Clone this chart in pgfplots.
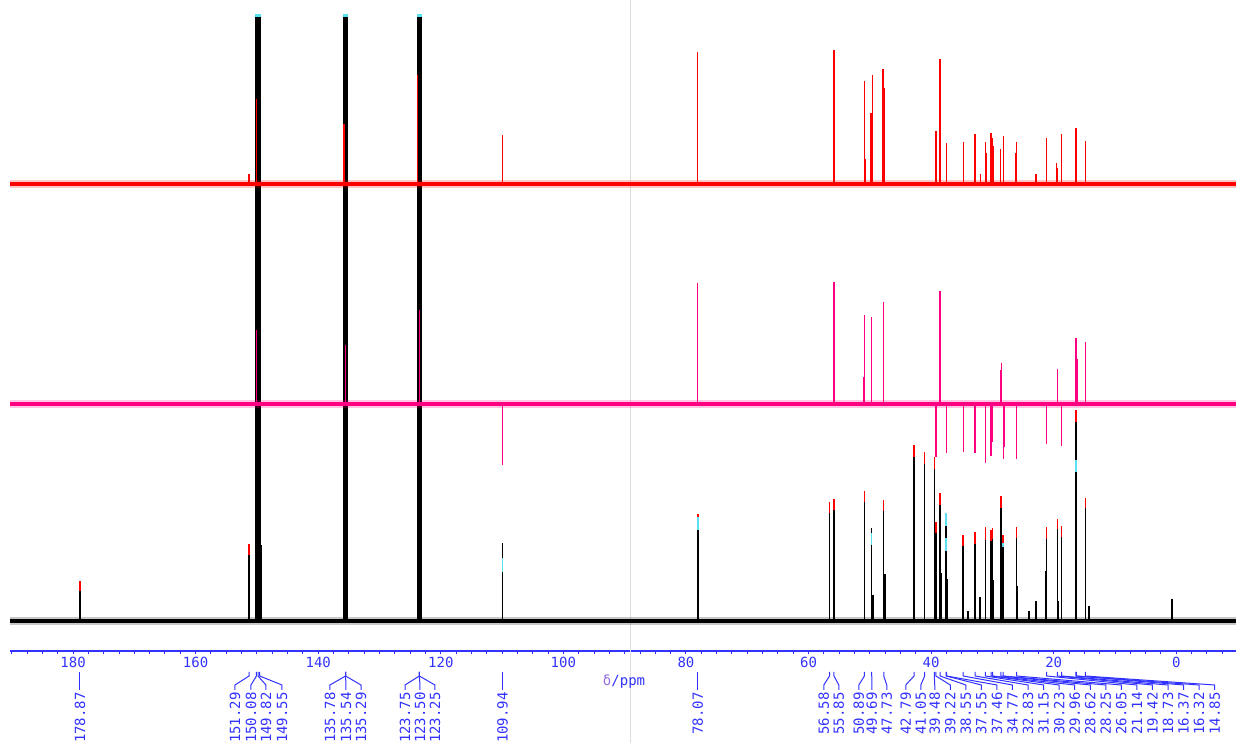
\documentclass[border=0pt]{standalone}
\usepackage{fontspec}
\usepackage{pgfplots}
\pgfplotsset{compat=1.18}
\newfontfamily\monof{DejaVu Sans Mono}
\definecolor{axblue}{RGB}{50,50,255}
\definecolor{nmrpink}{RGB}{255,0,128}
\definecolor{nmrcyan}{RGB}{90,225,240}
\definecolor{dpurple}{RGB}{150,110,230}
\definecolor{vgray}{RGB}{222,222,222}
\pgfplotsset{
  nmrbase/.style={scale only axis, width=613pt, height=325.5pt, x dir=reverse,
    xmin=-9.74, xmax=190.29, clip=false},
}
\tikzset{
  lab/.style={rotate=90, anchor=east, inner sep=0pt, text=axblue,
    font=\fontsize{7}{8}\selectfont\monof},
}
\begin{document}
\begin{tikzpicture}
% ---------------- black (13C) spectrum + axis ----------------
\begin{axis}[nmrbase, ymin=-30, ymax=621,
  axis x line*=bottom, axis y line=none,
  x axis line style={axblue, line width=0.8pt, -},
  xtick={0,20,...,180}, minor xtick={-7.5,-5,...,190},
  tick align=outside, major tick length=1.6pt, minor tick length=1.6pt,
  every tick/.style={axblue, line width=0.5pt},
  /pgf/number format/assume math mode=true,
  xticklabel style={font=\fontsize{7}{8}\selectfont\monof, text=axblue, inner sep=0pt, yshift=-1.2pt},
]
\coordinate (SW) at (rel axis cs:0,0);
\coordinate (NE) at (rel axis cs:1,1);
% cursor line
\addplot[vgray, line width=0.6pt] coordinates {(89.1,-122) (89.1,621)};
% noise baseline
\addplot[black, line width=4pt, opacity=0.22] coordinates {(190.29,0) (-9.74,0)};
\addplot[black, line width=2.3pt] coordinates {(190.29,0) (-9.74,0)};
% L1 red tips (full height)
\addplot[ycomb, red, line width=0.7pt] coordinates {
 (178.87,40) (151.29,77) (78.07,107) (56.58,119) (55.85,122) (50.89,130)
 (47.73,121) (42.79,176) (41.05,169) (39.48,164) (39.22,99) (38.55,128)
 (34.77,86) (32.83,89) (31.15,94) (30.23,91) (29.96,93) (28.62,125)
 (28.25,86) (26.05,94) (21.14,94) (19.42,102) (18.73,95) (16.37,211) (14.85,123)};
% L2 cyan tips
\addplot[ycomb, nmrcyan, line width=1.1pt] coordinates {
 (150.08,607) (149.82,607) (149.55,607) (135.78,607) (135.54,607) (135.29,607)
 (123.75,607) (123.50,607) (123.25,607)};
\addplot[ycomb, nmrcyan, line width=0.7pt] coordinates {(37.55,108)};
% L3 black bodies
\addplot[ycomb, black, line width=1.1pt] coordinates {
 (150.08,604) (149.82,604) (149.55,604) (135.78,604) (135.54,604) (135.29,604)
 (123.75,604) (123.50,604) (123.25,604)};
\addplot[ycomb, black, line width=2pt] coordinates {
 (149.45,76) (135.45,20) (123.35,26)};
\addplot[ycomb, black, line width=0.7pt] coordinates {
 (178.87,30) (151.29,66) (109.94,78) (78.07,104) (56.58,108) (55.85,111)
 (50.89,119) (49.69,93) (47.73,110) (42.79,164) (41.05,157) (39.48,152)
 (39.22,88) (38.55,116) (37.55,95) (34.77,75) (32.83,77) (31.15,81)
 (30.23,80) (29.96,82) (28.62,113) (28.25,78) (26.05,83) (21.14,82)
 (19.42,92) (18.73,84) (16.37,199) (14.85,113)};
% L4 cyan middle segments
\addplot[ycomb, nmrcyan, line width=0.7pt] coordinates {
 (109.94,63) (78.07,104) (49.69,88) (37.55,83) (28.25,78) (16.37,161)};
% L5 black below
\addplot[ycomb, black, line width=0.7pt] coordinates {
 (109.94,49) (78.07,91) (49.69,76) (37.55,70) (28.25,74) (16.37,149)};
% shoulders and small peaks
\addplot[ycomb, black, line width=1.1pt] coordinates {
 (49.55,26) (47.60,47) (38.40,48) (37.46,42) (34.0,10) (32.0,24) (29.96,41)
 (26.0,35) (24.0,10) (22.9,20) (21.25,50) (19.35,20) (14.25,15) (0.70,22)};
% axis unit label
\node[font=\fontsize{7}{8}\selectfont\monof, inner sep=0pt] at (axis cs:90.1,-61)
  {\textcolor{dpurple}{δ}\textcolor{axblue}{/ppm}};
% peak labels with leaders
\foreach \p/\l/\t in {
 178.87/178.87/178.87, 151.29/153.58/151.29, 150.08/150.97/150.08,
 149.82/148.52/149.82, 149.55/145.91/149.55,
 135.54/138.08/135.78, 135.54/135.47/135.54, 135.54/133.02/135.29,
 123.50/125.84/123.75, 123.50/123.40/123.50, 123.50/120.95/123.25,
 109.94/109.94/109.94, 78.07/78.07/78.07,
 56.58/57.51/56.58, 55.85/55.06/55.85, 50.89/51.80/50.89, 49.69/49.68/49.69,
 47.73/47.24/47.73, 42.79/44.14/42.79, 41.05/41.69/41.05,
 39.48/39.41/39.48, 39.22/36.87/39.22, 38.55/34.34/38.55, 37.55/31.80/37.55,
 37.46/29.26/37.46, 34.77/26.73/34.77, 32.83/24.19/32.83, 31.15/21.65/31.15,
 30.23/19.11/30.23, 29.96/16.58/29.96, 28.62/14.04/28.62, 28.25/11.50/28.25,
 26.05/8.96/26.05, 21.14/6.43/21.14, 19.42/3.89/19.42, 18.73/1.35/18.73,
 16.37/-1.18/16.37, 16.32/-3.72/16.32, 14.85/-6.26/14.85}{
 \edef\tmp{\noexpand\draw[axblue, line width=0.5pt] (axis cs:\p,-51) -- (axis cs:\p,-55)
   -- (axis cs:\l,-64) -- (axis cs:\l,-69);
   \noexpand\node[lab] at (axis cs:\l,-71) {\t};}
 \tmp
}
\end{axis}
% ---------------- pink (DEPT-135) spectrum ----------------
\begin{axis}[nmrbase, ymin=-247, ymax=404, hide axis]
\addplot[nmrpink, line width=3.8pt, opacity=0.22] coordinates {(190.29,0) (-9.74,0)};
\addplot[nmrpink, line width=2.2pt] coordinates {(190.29,0) (-9.74,0)};
\addplot[ycomb, nmrpink, line width=0.6pt] coordinates {
 (150.08,74) (135.54,59) (123.50,94) (78.07,121) (55.85,122) (51.10,27) (50.89,89)
 (49.69,87) (47.73,102) (38.55,113) (28.70,34) (28.55,41) (19.42,35)
 (16.37,66) (16.15,45) (14.85,62)};
\addplot[ycomb, nmrpink, line width=0.6pt] coordinates {
 (109.94,-61) (39.22,-53) (37.46,-49) (34.77,-48) (32.83,-49) (31.15,-59)
 (30.23,-52) (29.96,-38) (28.25,-55) (28.10,-43) (26.05,-55) (21.14,-40) (18.73,-42)};
\end{axis}
% ---------------- red (DEPT-90) spectrum ----------------
\begin{axis}[nmrbase, ymin=-467, ymax=184, hide axis]
\addplot[red, line width=3.8pt, opacity=0.22] coordinates {(190.29,0) (-9.74,0)};
\addplot[red, line width=2.2pt] coordinates {(190.29,0) (-9.74,0)};
\addplot[ycomb, red, line width=0.6pt] coordinates {
 (151.29,10) (150.08,85) (135.78,60) (135.65,33) (123.75,109) (109.94,49)
 (78.07,132) (55.85,134) (50.89,103) (50.65,25) (49.80,71) (49.60,109)
 (47.85,115) (47.64,96) (39.22,53) (38.70,77) (38.55,125) (37.46,41)
 (34.77,42) (32.83,50) (32.0,10) (31.15,42) (30.95,31) (30.23,51) (30.05,46)
 (29.85,38) (28.62,35) (28.25,48) (26.25,31) (26.05,42) (22.9,10) (21.14,46)
 (19.50,21) (19.35,16) (18.73,50) (16.37,56) (14.85,43)};
\end{axis}
\pgfresetboundingbox
\path[use as bounding box] ([xshift=-5pt,yshift=-46pt]SW) rectangle (NE);
\end{tikzpicture}
\end{document}
